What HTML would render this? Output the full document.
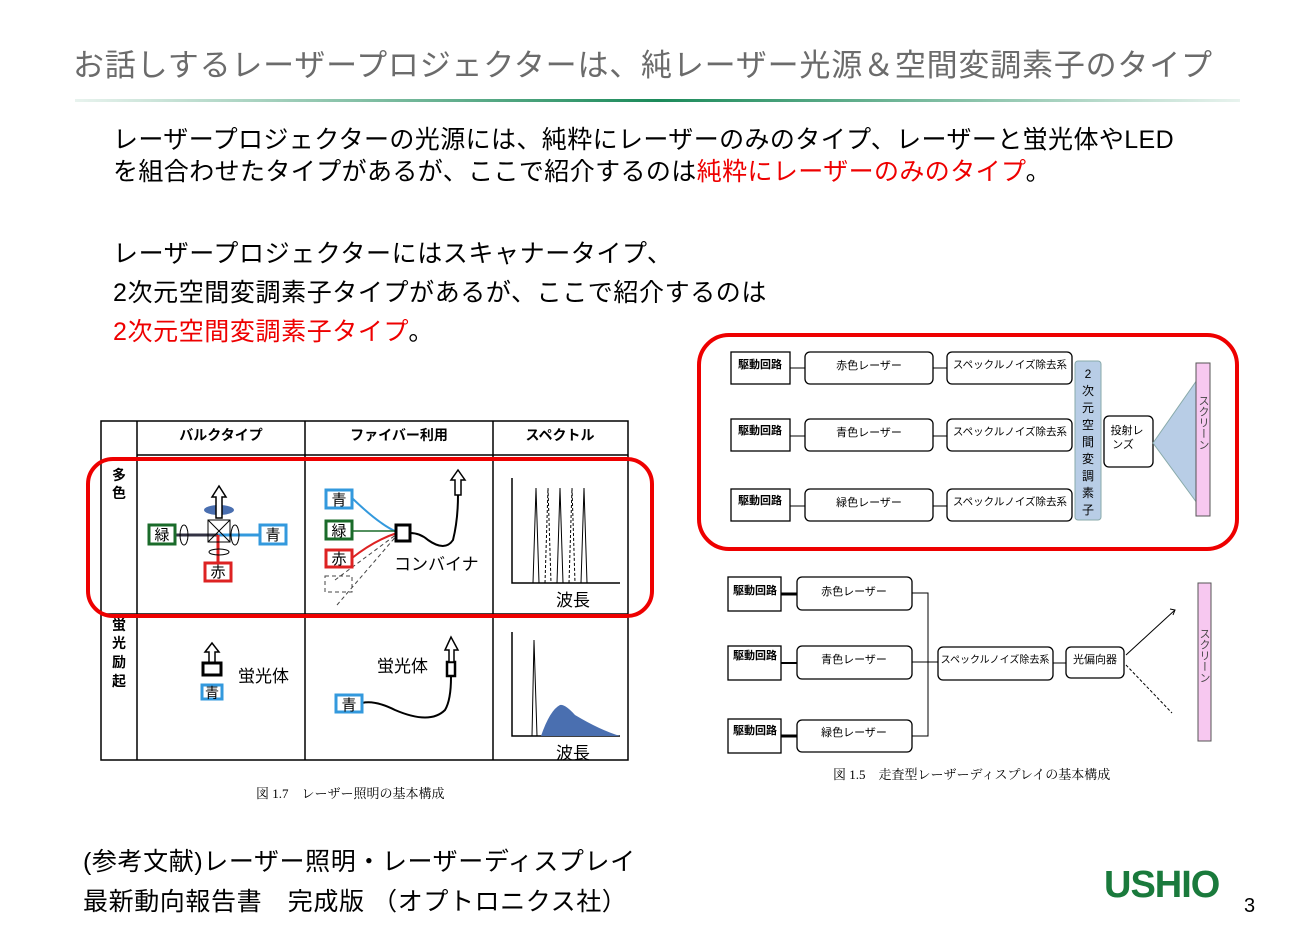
<!DOCTYPE html>
<html><head><meta charset="utf-8"><style>
body{margin:0;width:1314px;height:928px;background:#fff;position:relative;overflow:hidden;font-family:"Liberation Sans","Noto Sans CJK JP",sans-serif}
.t{position:absolute;white-space:nowrap;color:#000}
</style></head><body>
<div class="t" style="left:73px;top:40px;font-size:31px;color:#6b6b6b;letter-spacing:0.8px">お話しするレーザープロジェクターは、純レーザー光源＆空間変調素子のタイプ</div>
<div style="position:absolute;left:75px;top:99px;width:1165px;height:3px;background:linear-gradient(90deg,#e8f3ee,#1b8a5a 50%,#e8f3ee)"></div>
<div class="t" style="left:113px;top:124px;font-size:25px;line-height:32px;letter-spacing:0.4px">レーザープロジェクターの光源には、純粋にレーザーのみのタイプ、レーザーと蛍光体やLED<br>を組合わせたタイプがあるが、ここで紹介するのは<span style="color:#e00">純粋にレーザーのみのタイプ</span>。</div>
<div class="t" style="left:113px;top:235px;font-size:25px;line-height:39px;letter-spacing:0.6px">レーザープロジェクターにはスキャナータイプ、<br>2次元空間変調素子タイプがあるが、ここで紹介するのは<br><span style="color:#e00">2次元空間変調素子タイプ</span>。</div>
<div class="t" style="left:83px;top:842px;font-size:25px;line-height:40px;letter-spacing:0.6px">(参考文献)レーザー照明・レーザーディスプレイ<br>最新動向報告書　完成版 （オプトロニクス社）</div>
<div class="t" style="left:1104px;top:864px;font-size:38px;font-weight:bold;color:#1a7a3c;letter-spacing:-1px">USHIO</div>
<div class="t" style="left:1244px;top:895px;font-size:20px">3</div>
<svg width="1314" height="928" style="position:absolute;left:0;top:0" font-family="Liberation Sans,Noto Sans CJK JP,sans-serif">
<g stroke="#000" stroke-width="1.5" fill="none">
<rect x="101" y="421" width="527" height="339"/>
<line x1="137" y1="421" x2="137" y2="760"/><line x1="305" y1="421" x2="305" y2="760"/><line x1="493" y1="421" x2="493" y2="760"/>
<line x1="137" y1="455" x2="628" y2="455"/><line x1="101" y1="614" x2="628" y2="614"/>
</g>
<g font-size="14" font-weight="bold" text-anchor="middle">
<text x="221" y="440">バルクタイプ</text><text x="399" y="440">ファイバー利用</text><text x="560" y="440">スペクトル</text>
<text x="119" y="480">多</text><text x="119" y="498">色</text>
<text x="119" y="630">蛍</text><text x="119" y="648">光</text><text x="119" y="667">励</text><text x="119" y="686">起</text>
</g>
<line x1="160" y1="535" x2="218" y2="535" stroke="#334" stroke-width="3"/>
<line x1="218" y1="535" x2="262" y2="535" stroke="#3399dd" stroke-width="3"/>
<line x1="218" y1="535" x2="218" y2="565" stroke="#d22" stroke-width="3"/>
<ellipse cx="219" cy="510" rx="15" ry="5" fill="#4a6fb0"/>
<g fill="none" stroke="#000" stroke-width="1"><ellipse cx="184" cy="535" rx="4" ry="10"/><ellipse cx="235" cy="535" rx="4" ry="10"/><ellipse cx="219" cy="552" rx="10" ry="3"/><rect x="208" y="520" width="22" height="22"/><line x1="208" y1="520" x2="230" y2="542"/><line x1="230" y1="520" x2="208" y2="542"/></g>
<path d="M216 518 V497 H212 L219 486 L226 497 H222 V518 Z" fill="#fff" stroke="#000" stroke-width="1.5"/>
<g font-size="15" text-anchor="middle">
<rect x="149" y="525" width="26" height="19" fill="#fff" stroke="#1a6b2a" stroke-width="3"/><text x="162" y="540">緑</text>
<rect x="260" y="525" width="26" height="19" fill="#fff" stroke="#3399dd" stroke-width="3"/><text x="273" y="540">青</text>
<rect x="205" y="563" width="26" height="18" fill="#fff" stroke="#d22" stroke-width="3"/><text x="218" y="577">赤</text>
</g>
<path d="M352 498 Q380 525 397 532" stroke="#3399dd" stroke-width="2" fill="none"/>
<line x1="352" y1="531" x2="397" y2="531" stroke="#1a6b2a" stroke-width="1.5"/>
<path d="M352 558 Q375 540 397 533" stroke="#d22" stroke-width="2" fill="none"/>
<g stroke="#444" stroke-dasharray="4 3" fill="none"><path d="M335 580 L397 534"/><path d="M337 605 L398 534"/><rect x="325" y="576" width="27" height="16"/></g>
<rect x="396" y="525" width="14" height="16" fill="#fff" stroke="#000" stroke-width="3"/>
<path d="M410 533 Q420 533 428 540 Q445 552 453 540 Q458 520 458 495" stroke="#000" stroke-width="2" fill="none"/>
<path d="M455 495 V480 H451 L458 470 L465 480 H461 V495 Z" fill="#fff" stroke="#000" stroke-width="1.5"/>
<g font-size="15" text-anchor="middle">
<rect x="326" y="490" width="26" height="18" fill="#fff" stroke="#3399dd" stroke-width="3"/><text x="339" y="505">青</text>
<rect x="326" y="521" width="26" height="18" fill="#fff" stroke="#1a6b2a" stroke-width="3"/><text x="339" y="536">緑</text>
<rect x="326" y="550" width="26" height="17" fill="#fff" stroke="#d22" stroke-width="3"/><text x="339" y="564">赤</text>
</g>
<text x="394" y="570" font-size="17">コンバイナ</text>
<path d="M512 478 V583 H620" stroke="#000" stroke-width="1.5" fill="none"/>
<g stroke="#000" fill="none" stroke-width="1"><path d="M533 583 L536 488 L539 583"/><path d="M557 583 L560 488 L563 583"/><path d="M581 583 L584 488 L587 583"/></g>
<g stroke="#000" stroke-dasharray="3 2" fill="none" stroke-width="1"><path d="M545 583 L548 488 L551 583"/><path d="M569 583 L572 488 L575 583"/></g>
<text x="556" y="606" font-size="17">波長</text>
<path d="M209 664 V652 H205 L212 643 L219 652 H215 V664 Z" fill="#fff" stroke="#000" stroke-width="1.5"/>
<rect x="203" y="663" width="18" height="12" fill="#fff" stroke="#000" stroke-width="3"/>
<rect x="202" y="685" width="20" height="14" fill="#fff" stroke="#3399dd" stroke-width="3"/><text x="212" y="698" font-size="14" text-anchor="middle">青</text>
<text x="238" y="682" font-size="17">蛍光体</text>
<text x="377" y="672" font-size="17">蛍光体</text>
<rect x="447" y="662" width="8" height="14" fill="#fff" stroke="#000" stroke-width="2.5"/>
<path d="M449 662 V650 H445 L451 637 L458 650 H454 V662 Z" fill="#fff" stroke="#000" stroke-width="1.5"/>
<path d="M362 703 Q375 700 395 710 Q430 725 445 710 Q451 700 451 677" stroke="#000" stroke-width="2" fill="none"/>
<rect x="336" y="695" width="26" height="17" fill="#fff" stroke="#3399dd" stroke-width="3"/><text x="349" y="710" font-size="15" text-anchor="middle">青</text>
<path d="M512 632 V736 H620" stroke="#000" stroke-width="1.5" fill="none"/>
<path d="M532 736 L534 640 L537 736" stroke="#000" fill="none"/>
<path d="M541 736 Q550 710 560 705 Q565 704 575 715 Q600 730 620 736 Z" fill="#4a6fb0"/>
<text x="556" y="759" font-size="17">波長</text>
<rect x="88" y="459" width="564" height="157" rx="25" fill="none" stroke="#e00" stroke-width="4"/>
<text x="256" y="798" font-size="13" font-family="Liberation Serif,Noto Serif CJK SC,serif">図 1.7　レーザー照明の基本構成</text>
<g font-size="11" text-anchor="middle">
<g fill="#fff" stroke="#000" stroke-width="1.3">
<rect x="731" y="352" width="59" height="32"/><rect x="731" y="419" width="59" height="32"/><rect x="731" y="489" width="59" height="32"/>
<rect x="805" y="352" width="128" height="32" rx="5"/><rect x="805" y="419" width="128" height="32" rx="5"/><rect x="805" y="489" width="128" height="32" rx="5"/>
<rect x="947" y="352" width="125" height="32" rx="5"/><rect x="947" y="419" width="125" height="32" rx="5"/><rect x="947" y="489" width="125" height="32" rx="5"/>
<rect x="1104" y="416" width="49" height="51" rx="5"/>
</g>
<g stroke="#000" stroke-width="1"><line x1="790" y1="368" x2="805" y2="368"/><line x1="790" y1="436" x2="805" y2="436"/><line x1="790" y1="506" x2="805" y2="506"/><line x1="933" y1="368" x2="947" y2="368"/><line x1="933" y1="436" x2="947" y2="436"/><line x1="933" y1="506" x2="947" y2="506"/></g>
<text x="760" y="368" font-weight="bold">駆動回路</text><text x="760" y="434" font-weight="bold">駆動回路</text><text x="760" y="504" font-weight="bold">駆動回路</text>
<text x="869" y="369">赤色レーザー</text><text x="869" y="436">青色レーザー</text><text x="869" y="506">緑色レーザー</text>
<g font-size="10.5"><text x="1010" y="368">スペックルノイズ除去系</text><text x="1010" y="435">スペックルノイズ除去系</text><text x="1010" y="505">スペックルノイズ除去系</text></g>
<text x="1127" y="434">投射レ</text><text x="1123" y="448">ンズ</text>
</g>
<rect x="1075" y="361" width="26" height="159" rx="3" fill="#b8cde6" stroke="#8aa" stroke-width="1"/>
<g font-size="12" text-anchor="middle"><text x="1088" y="378">2</text><text x="1088" y="395">次</text><text x="1088" y="412">元</text><text x="1088" y="429">空</text><text x="1088" y="446">間</text><text x="1088" y="463">変</text><text x="1088" y="480">調</text><text x="1088" y="497">素</text><text x="1088" y="514">子</text></g>
<path d="M1153 443 L1197 380 L1197 503 Z" fill="#b8cde6" stroke="#8aa"/>
<rect x="1196" y="363" width="14" height="153" fill="#f7c8f0" stroke="#555"/>
<text x="1203" y="395" font-size="11" writing-mode="tb" fill="#444">スクリーン</text>
<rect x="699" y="335" width="538" height="214" rx="30" fill="none" stroke="#e00" stroke-width="4"/>
<g font-size="11" text-anchor="middle">
<g fill="#fff" stroke="#000" stroke-width="1.3">
<rect x="728" y="577" width="53" height="34"/><rect x="728" y="646" width="53" height="34"/><rect x="728" y="719" width="53" height="34"/>
<rect x="797" y="577" width="115" height="33" rx="5"/><rect x="797" y="646" width="115" height="33" rx="5"/><rect x="797" y="720" width="115" height="32" rx="5"/>
<rect x="938" y="647" width="115" height="33" rx="5"/><rect x="1066" y="647" width="58" height="31" rx="5"/>
</g>
<g stroke="#000" stroke-width="1" fill="none"><line x1="781" y1="594" x2="797" y2="594" stroke-width="3"/><line x1="781" y1="663" x2="797" y2="663" stroke-width="2"/><line x1="781" y1="736" x2="797" y2="736" stroke-width="3"/>
<path d="M912 593 H928 V736 H912"/><line x1="912" y1="662" x2="938" y2="662"/><line x1="1053" y1="663" x2="1066" y2="663"/>
<line x1="1126" y1="655" x2="1175" y2="610"/><path d="M1170 609 L1175 610 L1173 615"/>
<line x1="1126" y1="665" x2="1172" y2="713" stroke-dasharray="3 2"/></g>
<text x="755" y="594" font-weight="bold">駆動回路</text><text x="755" y="659" font-weight="bold">駆動回路</text><text x="755" y="734" font-weight="bold">駆動回路</text>
<text x="854" y="595">赤色レーザー</text><text x="854" y="663">青色レーザー</text><text x="854" y="736">緑色レーザー</text>
<text x="995" y="663" font-size="10">スペックルノイズ除去系</text><text x="1095" y="663">光偏向器</text>
</g>
<rect x="1198" y="583" width="13" height="158" fill="#f7c8f0" stroke="#555"/>
<text x="1204" y="628" font-size="11" writing-mode="tb" fill="#444">スクリーン</text>
<text x="833" y="779" font-size="13" font-family="Liberation Serif,Noto Serif CJK SC,serif">図 1.5　走査型レーザーディスプレイの基本構成</text>
</svg>
</body></html>
